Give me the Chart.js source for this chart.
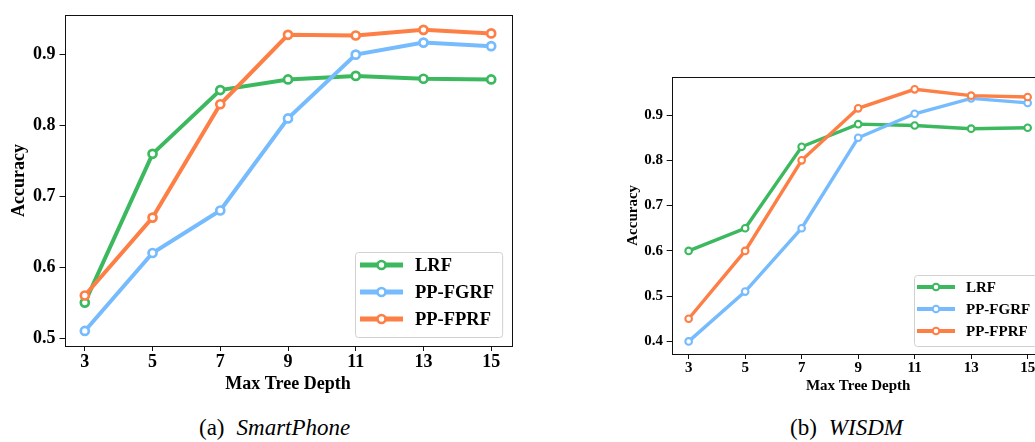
<!DOCTYPE html>
<html><head><meta charset="utf-8">
<script src="https://cdn.jsdelivr.net/npm/chart.js@4.4.1/dist/chart.umd.min.js"></script>
<style>
html,body{margin:0;padding:0;background:#fff;overflow:hidden;width:1035px;height:442px;}
.wrap{position:absolute;}
.cap{position:absolute;font-family:"Liberation Serif","Times New Roman","DejaVu Serif",serif;font-weight:normal;font-size:23px;line-height:23px;color:#000;white-space:nowrap;}
.cap i{margin-left:12px;font-style:italic;}
</style></head><body>
<div class="wrap" style="left:0;top:0;width:540px;height:400px;"><canvas id="c1" width="540" height="400"></canvas></div>
<div class="wrap" style="left:600px;top:40px;width:460px;height:360px;"><canvas id="c2" width="460" height="360"></canvas></div>
<div class="cap" style="left:199px;top:416px;">(a)<i>SmartPhone</i></div>
<div class="cap" style="left:790px;top:416px;">(b)<i>WISDM</i></div>
<script>
const depths = [3, 5, 7, 9, 11, 13, 15];
const seriesNames = ['LRF', 'PP-FGRF', 'PP-FPRF'];
const smartLRF  = [0.55, 0.76, 0.85, 0.865, 0.87, 0.866, 0.865];
const smartFGRF = [0.51, 0.62, 0.68, 0.81, 0.90, 0.917, 0.912];
const smartFPRF = [0.56, 0.67, 0.83, 0.928, 0.927, 0.935, 0.930];
const wisdmLRF  = [0.60, 0.65, 0.83, 0.88, 0.877, 0.87, 0.872];
const wisdmFGRF = [0.40, 0.51, 0.65, 0.85, 0.903, 0.937, 0.927];
const wisdmFPRF = [0.45, 0.60, 0.80, 0.915, 0.957, 0.943, 0.94];
const smartYTicks = [0.5, 0.6, 0.7, 0.8, 0.9];
const wisdmYTicks = [0.4, 0.5, 0.6, 0.7, 0.8, 0.9];
const xTitle = 'Max Tree Depth';
const yTitle = 'Accuracy';
const colors = ['#3cb95f', '#75bbfd', '#fd7f45'];

const FONT = 'Liberation Serif';

const frame = {
  id: 'frame',
  afterDatasetsDraw(chart) {
    const {ctx, chartArea: a} = chart;
    ctx.save();
    ctx.strokeStyle = '#111';
    ctx.lineWidth = 1;
    ctx.strokeRect(Math.round(a.left) + 0.5, Math.round(a.top) + 0.5,
                   Math.round(a.right) - Math.round(a.left), Math.round(a.bottom) - Math.round(a.top));
    ctx.restore();
  }
};

const boxLegend = {
  id: 'boxLegend',
  afterDraw(chart, args, o) {
    const ctx = chart.ctx, ca = chart.chartArea;
    const ds = chart.data.datasets;
    ctx.save();
    ctx.font = `bold ${o.fs}px "${FONT}"`;
    const tw = Math.max(...ds.map(d => ctx.measureText(d.label).width));
    const w = o.padL + o.lineLen + o.gap + tw + o.padR;
    const h = o.padT + o.rowH * (ds.length - 1) + o.padB;
    const x = Math.round(ca.right - o.offR - w), y = Math.round(ca.bottom - o.offB - h);
    ctx.beginPath();
    ctx.roundRect(x + 0.5, y + 0.5, w, h, o.radius);
    ctx.fillStyle = 'rgba(255,255,255,0.8)';
    ctx.fill();
    ctx.strokeStyle = '#d0d0d0';
    ctx.lineWidth = 1;
    ctx.stroke();
    ds.forEach((d, i) => {
      const cy = y + o.padT + i * o.rowH;
      const x0 = x + o.padL;
      ctx.beginPath();
      ctx.moveTo(x0, cy); ctx.lineTo(x0 + o.lineLen, cy);
      ctx.strokeStyle = d.borderColor; ctx.lineWidth = o.lw; ctx.stroke();
      ctx.beginPath();
      ctx.arc(x0 + o.lineLen / 2, cy, d.pointRadius, 0, Math.PI * 2);
      ctx.fillStyle = '#fff'; ctx.fill();
      ctx.lineWidth = d.pointBorderWidth; ctx.stroke();
      ctx.fillStyle = '#000'; ctx.textBaseline = 'middle'; ctx.textAlign = 'left';
      ctx.fillText(d.label, x0 + o.lineLen + o.gap, cy + 1);
    });
    ctx.restore();
  }
};

function makeChart(id, series, yTicks, s) {
  const all = series.flat();
  const lo = Math.min(...all), hi = Math.max(...all), pad = (hi - lo) * 0.05;
  const xlo = depths[0], xhi = depths[depths.length - 1], xpad = (xhi - xlo) * 0.05;
  const font = {family: FONT, weight: 'bold', size: s.fs};
  return new Chart(document.getElementById(id), {
    type: 'line',
    data: {
      datasets: series.map((vals, i) => ({
        label: seriesNames[i],
        data: depths.map((d, j) => ({x: d, y: vals[j]})),
        borderColor: colors[i],
        backgroundColor: '#fff',
        borderWidth: s.lw,
        pointRadius: s.pr,
        pointHoverRadius: s.pr,
        pointBorderWidth: s.pbw,
        pointBackgroundColor: '#fff',
        pointBorderColor: colors[i],
        tension: 0,
        order: 2 - i
      }))
    },
    options: {
      responsive: false,
      animation: false,
      events: [],
      layout: {padding: {left: 0, top: s.padTop, right: s.padRight, bottom: 0}},
      plugins: {legend: {display: false}, tooltip: {enabled: false}, boxLegend: s.legend},
      scales: {
        x: {
          type: 'linear', min: xlo - xpad, max: xhi + xpad,
          afterBuildTicks: sc => { sc.ticks = depths.map(v => ({value: v})); },
          afterFit: sc => { sc.height = s.xh; },
          grid: {drawOnChartArea: false, drawTicks: true, tickLength: 5, color: '#111', tickWidth: 1},
          border: {display: false},
          ticks: {color: '#000', padding: s.xtp, font, maxRotation: 0, autoSkip: false, callback: v => String(v)},
          title: {display: true, text: xTitle, color: '#000', font, padding: {top: 0, bottom: s.xTitlePad}}
        },
        y: {
          type: 'linear', min: lo - pad, max: hi + pad,
          afterBuildTicks: sc => { sc.ticks = yTicks.map(v => ({value: v})); },
          afterFit: sc => { sc.width = s.yw; },
          grid: {drawOnChartArea: false, drawTicks: true, tickLength: 5, color: '#111', tickWidth: 1},
          border: {display: false},
          ticks: {color: '#000', padding: s.ytp, font, callback: v => Number(v).toFixed(1)},
          title: {display: true, text: yTitle, color: '#000', font, padding: {top: s.yTitlePad, bottom: 0}}
        }
      }
    },
    plugins: [frame, boxLegend]
  });
}

makeChart('c1', [smartLRF, smartFGRF, smartFPRF], smartYTicks, {
  fs: 18, lw: 4, pr: 4, pbw: 2.7,
  padTop: 14, padRight: 28.5, yw: 64.5, xh: 54,
  xtp: 1, ytp: 4, xTitlePad: 5, yTitlePad: 9,
  legend: {fs: 18.5, lw: 5, padL: 5, lineLen: 43, gap: 12, padR: 8, padT: 13, rowH: 27, padB: 18, offR: 9.5, offB: 9, radius: 3}
});

makeChart('c2', [wisdmLRF, wisdmFGRF, wisdmFPRF], wisdmYTicks, {
  fs: 15, lw: 3.4, pr: 3.3, pbw: 2.1,
  padTop: 36.7, padRight: 15.4, yw: 71.7, xh: 46,
  xtp: 0, ytp: 3.7, xTitlePad: 5, yTitlePad: 24,
  legend: {fs: 15, lw: 4, padL: 3, lineLen: 38, gap: 11, padR: 7, padT: 12, rowH: 22, padB: 15, offR: 7.5, offB: 8, radius: 3}
});
</script>
</body></html>
